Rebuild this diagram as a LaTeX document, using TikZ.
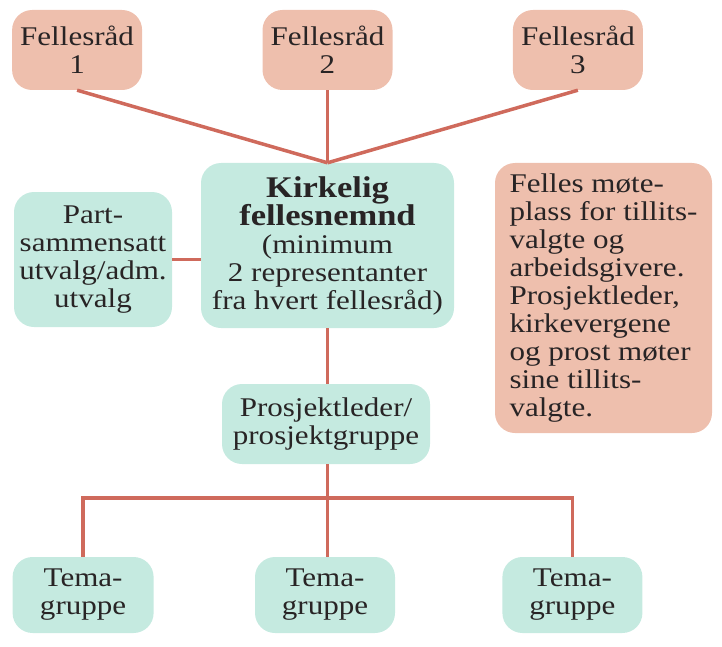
\documentclass[tikz,border=0pt]{standalone}
\usepackage{fontspec}
\setmainfont{Liberation Serif}[FakeStretch=1.15]
\usepackage{tikz}
\usetikzlibrary{positioning}
\usetikzlibrary{calc}
\definecolor{raadfill}{RGB}{238,191,173}
\definecolor{organfill}{RGB}{197,234,224}
\definecolor{linkcol}{RGB}{207,106,92}
\definecolor{tekst}{RGB}{40,36,37}
\newcommand{\brodtekst}{\fontsize{27pt}{28pt}\selectfont}

\begin{document}
\begin{tikzpicture}[x=1pt, y=-1pt,
    boks/.style= {
        rectangle,
        rounded corners=20pt,
        align=center,
        inner sep=0pt,
        text=tekst,
        font=\brodtekst },
    raad/.style= {boks, fill=raadfill},
    organ/.style= {boks, fill=organfill},
    link/.style= {
        draw=linkcol,
        line width=3.5pt } ]
    \useasboundingbox (0,0) rectangle (722,647);
    % midtre kolonne
    \node (kirkelig) [organ, minimum width=253pt, minimum height=165pt] at (327.5,245.5)
        {{\fontsize{30pt}{28pt}\selectfont\bfseries Kirkelig}\\
         {\fontsize{30pt}{28pt}\selectfont\bfseries fellesnemnd}\\
         (minimum\\ 2 representanter\\ fra hvert fellesråd)};
    \node (prosjekt) [organ, minimum width=208pt, minimum height=80pt] at (326,424)
        {Prosjektleder/\\prosjektgruppe};
    % fellesraadene
    \node (fr2) [raad, minimum width=130pt, minimum height=80pt] at (327.5,50) {Fellesråd\\2};
    \node (fr1) [raad, minimum width=130pt, minimum height=80pt, left=120pt of fr2] {Fellesråd\\1};
    \node (fr3) [raad, minimum width=130pt, minimum height=80pt, right=120pt of fr2] {Fellesråd\\3};
    % sideboksene
    \node (partssammensatt) [organ, minimum width=158pt, minimum height=135pt] at (93,259.5)
        {Part-\\sammensatt\\utvalg/adm.\\utvalg};
    \node (felles) [raad, align=left, minimum width=217pt, minimum height=270pt] at (603.5,298)
        {Felles møte-\\plass for tillits-\\valgte og\\arbeidsgivere.\\Prosjektleder,\\kirkevergene\\og prost møter\\sine tillits-\\valgte.};
    % temagruppene
    \node (tema2) [organ, minimum width=140pt, minimum height=76pt] at (325,595) {Tema-\\gruppe};
    \node (tema1) [organ, minimum width=141pt, minimum height=76pt, left=101pt of tema2] {Tema-\\gruppe};
    \node (tema3) [organ, minimum width=140pt, minimum height=76pt, right=107pt of tema2] {Tema-\\gruppe};
    \coordinate (bus) at (327.5,498);

    \draw [link] (fr1.south) -- (kirkelig.north);
    \draw [link] (fr2.south -| kirkelig.north) -- (kirkelig.north);
    \draw [link] (fr3.south) -- (kirkelig.north);
    \draw [link] (partssammensatt.east) -- (partssammensatt.east -| kirkelig.west);
    \draw [link] (kirkelig.south) -- (kirkelig.south |- prosjekt.north);
    \draw [link] (kirkelig.south |- prosjekt.south) -- (kirkelig.south |- tema2.north);
    \draw [link] (tema1.north) |- (bus) -| (tema3.north);
\end{tikzpicture}
\end{document}
